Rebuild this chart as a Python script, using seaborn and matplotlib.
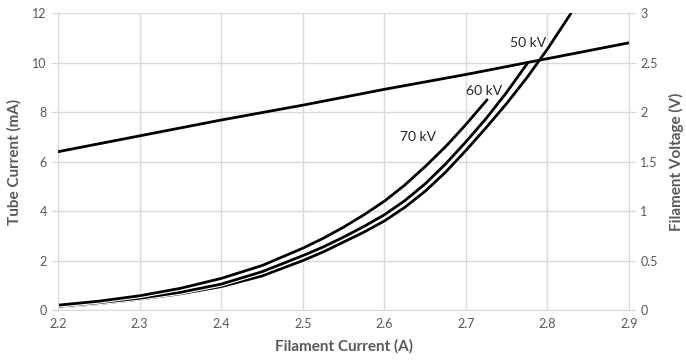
import numpy as np
import pandas as pd
import seaborn as sns
import matplotlib.pyplot as plt
import matplotlib.patheffects as pe

# Tube current (mA) vs filament current (A)
i_70 = [2.2, 2.25, 2.3, 2.35, 2.4, 2.45, 2.5, 2.525, 2.55, 2.575, 2.6,
        2.625, 2.65, 2.675, 2.7, 2.726]
ma_70 = [0.2, 0.36, 0.58, 0.88, 1.28, 1.8, 2.5, 2.9, 3.35, 3.85, 4.4,
         5.05, 5.8, 6.6, 7.5, 8.5]

i_60 = [2.2, 2.25, 2.3, 2.35, 2.4, 2.45, 2.5, 2.525, 2.55, 2.575, 2.6,
        2.625, 2.65, 2.675, 2.7, 2.725, 2.75, 2.776]
ma_60 = [0.15, 0.3, 0.48, 0.72, 1.05, 1.55, 2.2, 2.55, 2.95, 3.38, 3.85,
         4.42, 5.1, 5.9, 6.8, 7.75, 8.8, 10.0]

i_50 = [2.2, 2.25, 2.3, 2.35, 2.4, 2.45, 2.5, 2.525, 2.55, 2.575, 2.6,
        2.625, 2.65, 2.675, 2.7, 2.725, 2.75, 2.775, 2.8, 2.825, 2.85]
ma_50 = [0.12, 0.26, 0.44, 0.66, 0.95, 1.38, 2.0, 2.35, 2.75, 3.15, 3.6,
         4.15, 4.8, 5.57, 6.45, 7.38, 8.35, 9.4, 10.55, 11.8, 13.1]

# Filament voltage (V) on the right axis
i_fv = [2.2, 2.3, 2.4, 2.5, 2.6, 2.7, 2.8, 2.9]
v_fv = [1.6, 1.76, 1.92, 2.07, 2.23, 2.38, 2.54, 2.7]

labels = ['70 kV', '60 kV', '50 kV']
label_pos = [(2.641, 6.99), (2.722, 8.85), (2.776, 10.79)]

sns.set_style('white')
plt.rcParams['font.family'] = ['Lato', 'DejaVu Sans']

grey = '#595959'
grid = '#d9d9d9'

fig = plt.figure(figsize=(6.86, 3.64), dpi=100)
ax = fig.add_axes([0.0845, 0.148, 0.8325, 0.816])

halo = [pe.Stroke(linewidth=3.6, foreground='white'), pe.Normal()]
for xs, ys in [(i_50, ma_50), (i_60, ma_60), (i_70, ma_70)]:
    df = pd.DataFrame({'I': xs, 'mA': ys})
    sns.lineplot(data=df, x='I', y='mA', ax=ax, color='black', lw=2.0,
                 sort=False, estimator=None, path_effects=halo)

for lab, (x, y) in zip(labels, label_pos):
    ax.text(x, y, lab, ha='center', va='center', fontsize=10, color='#262626')

ax.set_xlim(2.2, 2.9)
ax.set_ylim(0, 12)
ax.set_xticks(np.arange(2.2, 2.91, 0.1))
ax.set_xticklabels([f'{v:.1f}' for v in np.arange(2.2, 2.91, 0.1)])
ax.set_yticks(range(0, 13, 2))
ax.grid(True, color=grid, lw=1)
ax.set_axisbelow(True)
ax.tick_params(axis='y', length=5, color=grid, labelsize=9, labelcolor=grey, pad=3, left=True)
ax.tick_params(axis='x', length=0, labelsize=9, labelcolor=grey, pad=6)
for s in ['top', 'right']:
    ax.spines[s].set_visible(False)
for s in ['left', 'bottom']:
    ax.spines[s].set_color(grid)
ax.set_xlabel('Filament Current (A)', fontsize=11, fontweight='bold', color=grey, labelpad=6)
ax.set_ylabel('Tube Current (mA)', fontsize=11, fontweight='bold', color=grey, labelpad=8)

ax2 = ax.twinx()
sns.lineplot(x=i_fv, y=v_fv, ax=ax2, color='black', lw=2.0)
ax2.set_ylim(0, 3)
ax2.set_yticks(np.arange(0, 3.01, 0.5))
ax2.set_yticklabels(['0', '0.5', '1', '1.5', '2', '2.5', '3'])
ax2.tick_params(axis='y', length=5, color=grid, labelsize=9, labelcolor=grey, pad=3, right=True)
for s in ['top', 'left', 'bottom']:
    ax2.spines[s].set_visible(False)
ax2.spines['right'].set_color(grid)
ax2.set_ylabel('Filament Voltage (V)', fontsize=11, fontweight='bold', color=grey, labelpad=8)
ax2.grid(False)

fig.savefig('out.png', dpi=100)
